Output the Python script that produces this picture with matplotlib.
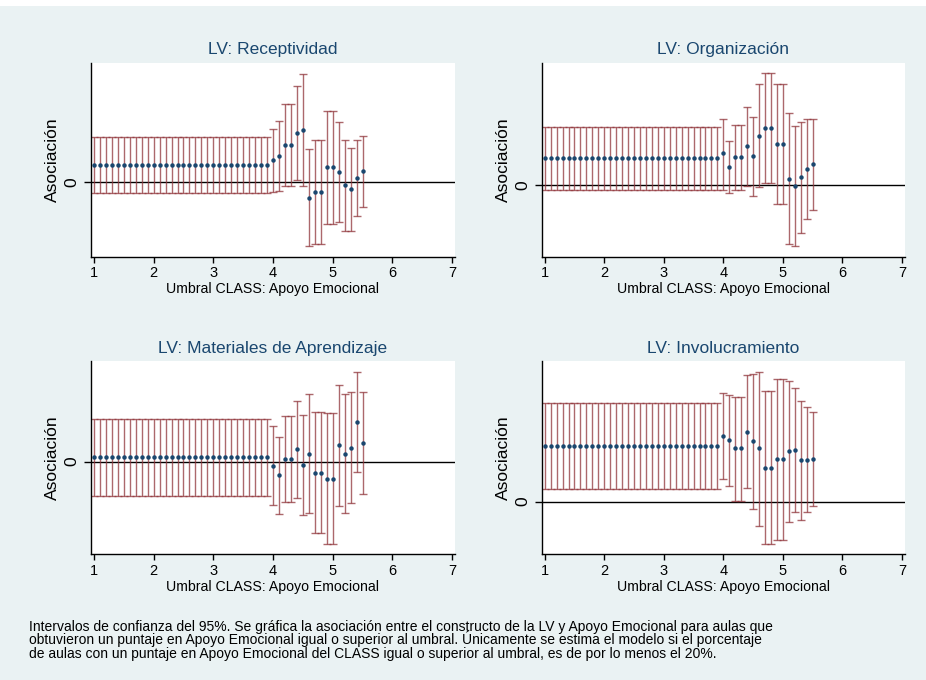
import matplotlib
matplotlib.use("Agg")
import matplotlib.pyplot as plt
from matplotlib.patches import Rectangle

# ---------------- data ----------------
umbral = [1.0, 1.1, 1.2, 1.3, 1.4, 1.5, 1.6, 1.7, 1.8, 1.9,
          2.0, 2.1, 2.2, 2.3, 2.4, 2.5, 2.6, 2.7, 2.8, 2.9,
          3.0, 3.1, 3.2, 3.3, 3.4, 3.5, 3.6, 3.7, 3.8, 3.9,
          4.0, 4.1, 4.2, 4.3, 4.4, 4.5, 4.6, 4.7, 4.8, 4.9,
          5.0, 5.1, 5.2, 5.3, 5.4, 5.5]

titles = ["LV: Receptividad", "LV: Organización",
          "LV: Materiales de Aprendizaje", "LV: Involucramiento"]

est_recept = [0.53, 0.53, 0.53, 0.53, 0.53, 0.53, 0.53, 0.53, 0.53, 0.53,
              0.53, 0.53, 0.53, 0.53, 0.53, 0.53, 0.53, 0.53, 0.53, 0.53,
              0.53, 0.53, 0.53, 0.53, 0.53, 0.53, 0.53, 0.53, 0.53, 0.53,
              0.66, 0.80, 1.11, 1.11, 1.49, 1.58, -0.46, -0.30, -0.30, 0.45,
              0.45, 0.31, -0.09, -0.20, 0.14, 0.33]
hi_recept = [1.37, 1.37, 1.37, 1.37, 1.37, 1.37, 1.37, 1.37, 1.37, 1.37,
             1.37, 1.37, 1.37, 1.37, 1.37, 1.37, 1.37, 1.37, 1.37, 1.37,
             1.37, 1.37, 1.37, 1.37, 1.37, 1.37, 1.37, 1.37, 1.37, 1.37,
             1.60, 1.85, 2.35, 2.35, 2.88, 3.26, 0.99, 1.26, 1.26, 2.15,
             2.15, 1.80, 1.28, 1.04, 1.28, 1.39]
lo_recept = [-0.32, -0.32, -0.32, -0.32, -0.32, -0.32, -0.32, -0.32, -0.32, -0.32,
             -0.32, -0.32, -0.32, -0.32, -0.32, -0.32, -0.32, -0.32, -0.32, -0.32,
             -0.32, -0.32, -0.32, -0.32, -0.32, -0.32, -0.32, -0.32, -0.32, -0.32,
             -0.28, -0.25, -0.12, -0.12, 0.08, -0.12, -1.92, -1.84, -1.84, -1.25,
             -1.25, -1.18, -1.47, -1.45, -1.00, -0.73]

est_organ = [0.83, 0.83, 0.83, 0.83, 0.83, 0.83, 0.83, 0.83, 0.83, 0.83,
             0.83, 0.83, 0.83, 0.83, 0.83, 0.83, 0.83, 0.83, 0.83, 0.83,
             0.83, 0.83, 0.83, 0.83, 0.83, 0.83, 0.83, 0.83, 0.83, 0.83,
             0.96, 0.55, 0.84, 0.84, 1.17, 0.87, 1.49, 1.72, 1.72, 1.23,
             1.23, 0.20, -0.01, 0.24, 0.50, 0.63]
hi_organ = [1.76, 1.76, 1.76, 1.76, 1.76, 1.76, 1.76, 1.76, 1.76, 1.76,
            1.76, 1.76, 1.76, 1.76, 1.76, 1.76, 1.76, 1.76, 1.76, 1.76,
            1.76, 1.76, 1.76, 1.76, 1.76, 1.76, 1.76, 1.76, 1.76, 1.76,
            1.99, 1.34, 1.81, 1.81, 2.36, 2.04, 3.04, 3.36, 3.36, 3.05,
            3.05, 2.17, 1.77, 1.91, 1.99, 2.00]
lo_organ = [-0.14, -0.14, -0.14, -0.14, -0.14, -0.14, -0.14, -0.14, -0.14, -0.14,
            -0.14, -0.14, -0.14, -0.14, -0.14, -0.14, -0.14, -0.14, -0.14, -0.14,
            -0.14, -0.14, -0.14, -0.14, -0.14, -0.14, -0.14, -0.14, -0.14, -0.14,
            -0.14, -0.24, -0.15, -0.15, -0.01, -0.31, -0.05, 0.08, 0.08, -0.57,
            -0.57, -1.76, -1.83, -1.43, -1.01, -0.75]

est_mater = [0.13, 0.13, 0.13, 0.13, 0.13, 0.13, 0.13, 0.13, 0.13, 0.13,
             0.13, 0.13, 0.13, 0.13, 0.13, 0.13, 0.13, 0.13, 0.13, 0.13,
             0.13, 0.13, 0.13, 0.13, 0.13, 0.13, 0.13, 0.13, 0.13, 0.13,
             -0.12, -0.40, 0.08, 0.08, 0.37, -0.10, 0.23, -0.33, -0.33, -0.51,
             -0.51, 0.49, 0.24, 0.42, 1.20, 0.57]
hi_mater = [1.28, 1.28, 1.28, 1.28, 1.28, 1.28, 1.28, 1.28, 1.28, 1.28,
            1.28, 1.28, 1.28, 1.28, 1.28, 1.28, 1.28, 1.28, 1.28, 1.28,
            1.28, 1.28, 1.28, 1.28, 1.28, 1.28, 1.28, 1.28, 1.28, 1.28,
            1.08, 0.75, 1.36, 1.36, 1.81, 1.40, 2.02, 1.49, 1.49, 1.45,
            1.45, 2.31, 2.02, 2.09, 2.69, 2.09]
lo_mater = [-1.03, -1.03, -1.03, -1.03, -1.03, -1.03, -1.03, -1.03, -1.03, -1.03,
            -1.03, -1.03, -1.03, -1.03, -1.03, -1.03, -1.03, -1.03, -1.03, -1.03,
            -1.03, -1.03, -1.03, -1.03, -1.03, -1.03, -1.03, -1.03, -1.03, -1.03,
            -1.30, -1.56, -1.21, -1.21, -1.08, -1.60, -1.55, -2.14, -2.14, -2.47,
            -2.47, -1.33, -1.53, -1.25, -0.30, -0.96]

est_invol = [1.67, 1.67, 1.67, 1.67, 1.67, 1.67, 1.67, 1.67, 1.67, 1.67,
             1.67, 1.67, 1.67, 1.67, 1.67, 1.67, 1.67, 1.67, 1.67, 1.67,
             1.67, 1.67, 1.67, 1.67, 1.67, 1.67, 1.67, 1.67, 1.67, 1.67,
             1.98, 1.84, 1.60, 1.60, 2.10, 1.81, 1.60, 1.02, 1.02, 1.27,
             1.27, 1.51, 1.55, 1.24, 1.25, 1.27]
hi_invol = [2.97, 2.97, 2.97, 2.97, 2.97, 2.97, 2.97, 2.97, 2.97, 2.97,
            2.97, 2.97, 2.97, 2.97, 2.97, 2.97, 2.97, 2.97, 2.97, 2.97,
            2.97, 2.97, 2.97, 2.97, 2.97, 2.97, 2.97, 2.97, 2.97, 2.97,
            3.25, 3.20, 3.15, 3.15, 3.79, 3.83, 3.89, 3.33, 3.33, 3.69,
            3.69, 3.61, 3.41, 3.02, 2.83, 2.69]
lo_invol = [0.38, 0.38, 0.38, 0.38, 0.38, 0.38, 0.38, 0.38, 0.38, 0.38,
            0.38, 0.38, 0.38, 0.38, 0.38, 0.38, 0.38, 0.38, 0.38, 0.38,
            0.38, 0.38, 0.38, 0.38, 0.38, 0.38, 0.38, 0.38, 0.38, 0.38,
            0.69, 0.46, 0.03, 0.03, 0.41, -0.21, -0.72, -1.28, -1.28, -1.14,
            -1.14, -0.60, -0.32, -0.54, -0.32, -0.14]

xticks = [1, 2, 3, 4, 5, 6, 7]
xlabel = "Umbral CLASS: Apoyo Emocional"
ylabel = "Asociación"
note_lines = [
    "Intervalos de confianza del 95%. Se gráfica la asociación entre el constructo de la LV y Apoyo Emocional para aulas que",
    "obtuvieron un puntaje en Apoyo Emocional igual o superior al umbral. Únicamente se estima el modelo si el porcentaje",
    "de aulas con un puntaje en Apoyo Emocional del CLASS igual o superior al umbral, es de por lo menos el 20%.",
]

# ---------------- style ----------------
plt.rcParams['font.family'] = ['Liberation Sans', 'DejaVu Sans']
BG = '#EAF2F3'
NAVY = '#1a476f'
MAROON = '#90353b'

W, H = 926, 680
fig = plt.figure(figsize=(W / 100, H / 100), dpi=100, facecolor=BG)
fig.patches.append(Rectangle((0, 1 - 6 / H), 1, 6 / H, transform=fig.transFigure,
                             facecolor='white', edgecolor='none', zorder=0))

def rect(l, r, t, b):
    return [l / W, 1 - b / H, (r - l) / W, (b - t) / H]

rects = [rect(91, 455, 62.7, 256.7), rect(541.7, 905, 62.7, 256.7),
         rect(91, 455, 361, 554.3), rect(541.7, 905, 361, 554.3)]
ylims = [(-2.23, 3.59), (-2.14, 3.68), (-2.78, 3.02), (-1.58, 4.22)]
panels = [(est_recept, lo_recept, hi_recept), (est_organ, lo_organ, hi_organ),
          (est_mater, lo_mater, hi_mater), (est_invol, lo_invol, hi_invol)]

for i, (est, lo, hi) in enumerate(panels):
    ax = fig.add_axes(rects[i])
    ax.set_facecolor('white')
    yerr = [[e - l for e, l in zip(est, lo)], [h - e for e, h in zip(est, hi)]]
    ax.axhline(0, color='black', lw=1.0, zorder=1)
    ax.errorbar(umbral, est, yerr=yerr, fmt='none', ecolor=MAROON, elinewidth=1.0,
                capsize=3.2, capthick=1.0, alpha=0.75, zorder=2)
    ax.plot(umbral, est, 'o', color=NAVY, markersize=3.2, markeredgewidth=0, zorder=3)
    ax.set_xlim(0.95, 7.05)
    ax.set_ylim(*ylims[i])
    ax.set_xticks(xticks)
    ax.set_yticks([0])
    for s in ['top', 'right']:
        ax.spines[s].set_visible(False)
    for s in ['left', 'bottom']:
        ax.spines[s].set_color('black')
        ax.spines[s].set_linewidth(1.0)
    ax.tick_params(axis='x', direction='out', length=4.2, width=1.0, pad=2.5,
                   labelsize=10.5, colors='black')
    ax.tick_params(axis='y', direction='out', length=4.8, width=1.0, pad=3.5,
                   labelsize=12.5, colors='black', labelrotation=90)
    for lab in ax.get_yticklabels():
        lab.set_va('center')
    ax.set_title(titles[i], color=NAVY, fontsize=12.5, pad=6)
    ax.set_xlabel(xlabel, fontsize=10.2, labelpad=1.5)
    ax.set_ylabel(ylabel, fontsize=12.5, labelpad=3)

for k, line in enumerate(note_lines):
    fig.text(29 / W, 1 - (630.7 + 13.5 * k) / H, line, fontsize=10.0, va='baseline',
             ha='left')

fig.savefig('out.png', dpi=100, facecolor=BG)
